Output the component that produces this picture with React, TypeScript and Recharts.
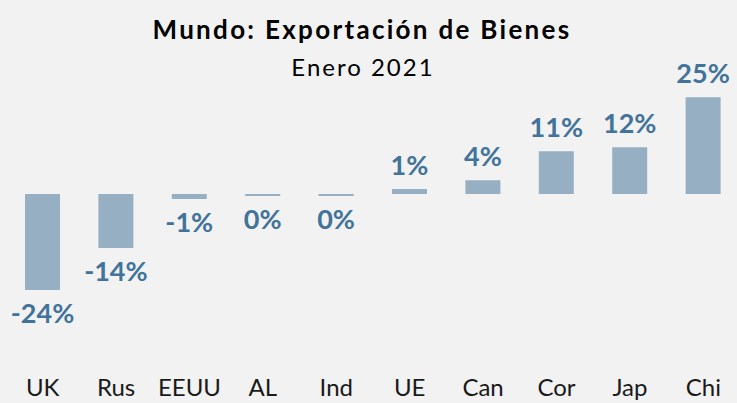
import { BarChart, Bar, XAxis, YAxis, LabelList } from "recharts";

const categories = ["UK", "Rus", "EEUU", "AL", "Ind", "UE", "Can", "Cor", "Jap", "Chi"];
const exportChange = [-24.4, -13.7, -1.3, -0.49, -0.49, 1.3, 3.5, 10.9, 11.9, 24.6];

const title = "Mundo: Exportación de Bienes";
const subtitle = "Enero 2021";

const data = categories.map((c, i) => ({ pais: c, valor: exportChange[i] }));

const BAR_COLOR = "#97afc3";
const LABEL_COLOR = "#41739b";

// etiqueta arriba si es positivo, abajo si es negativo
function renderLabel(props: any) {
  const { x, y, width, height, value } = props;
  const top = Math.min(y, y + height);
  const bottom = Math.max(y, y + height);
  const cx = x + width / 2;
  const neg = value < 0;
  return (
    <text
      x={cx}
      y={neg ? bottom + 14 + 19 : top - 14}
      textAnchor="middle"
      fill={LABEL_COLOR}
      fontFamily="Lato"
      fontWeight={700}
      fontSize={27}
    >
      {`${Math.round(value)}%`}
    </text>
  );
}

export default function App() {
  return (
    <div
      style={{
        position: "absolute",
        left: 0,
        top: 0,
        width: 737,
        height: 403,
        background: "#f2f2f2",
        overflow: "hidden",
        fontFamily: "Lato",
      }}
    >
      <div
        style={{
          position: "absolute",
          top: 14,
          width: 724,
          textAlign: "center",
          fontSize: 26,
          fontWeight: 700,
          letterSpacing: 2.3,
          lineHeight: "30px",
          color: "#000",
        }}
      >
        {title}
      </div>
      <div
        style={{
          position: "absolute",
          top: 52,
          width: 726,
          textAlign: "center",
          fontSize: 24,
          letterSpacing: 2,
          lineHeight: "30px",
          color: "#000",
        }}
      >
        {subtitle}
      </div>
      <div style={{ position: "absolute", left: 0, top: 0 }}>
        <BarChart
          width={745}
          height={403}
          data={data}
          margin={{ top: 76, right: 5, left: 6, bottom: 0 }}
        >
          <XAxis
            dataKey="pais"
            axisLine={false}
            tickLine={false}
            tickSize={0}
            tickMargin={67}
            height={91}
            interval={0}
            tick={{ fill: "#1a1a1a", fontSize: 24, fontFamily: "Lato" }}
          />
          <YAxis hide domain={[-30, 30]} />
          <Bar dataKey="valor" fill={BAR_COLOR} barSize={35} isAnimationActive={false}>
            <LabelList dataKey="valor" content={renderLabel} />
          </Bar>
        </BarChart>
      </div>
    </div>
  );
}
